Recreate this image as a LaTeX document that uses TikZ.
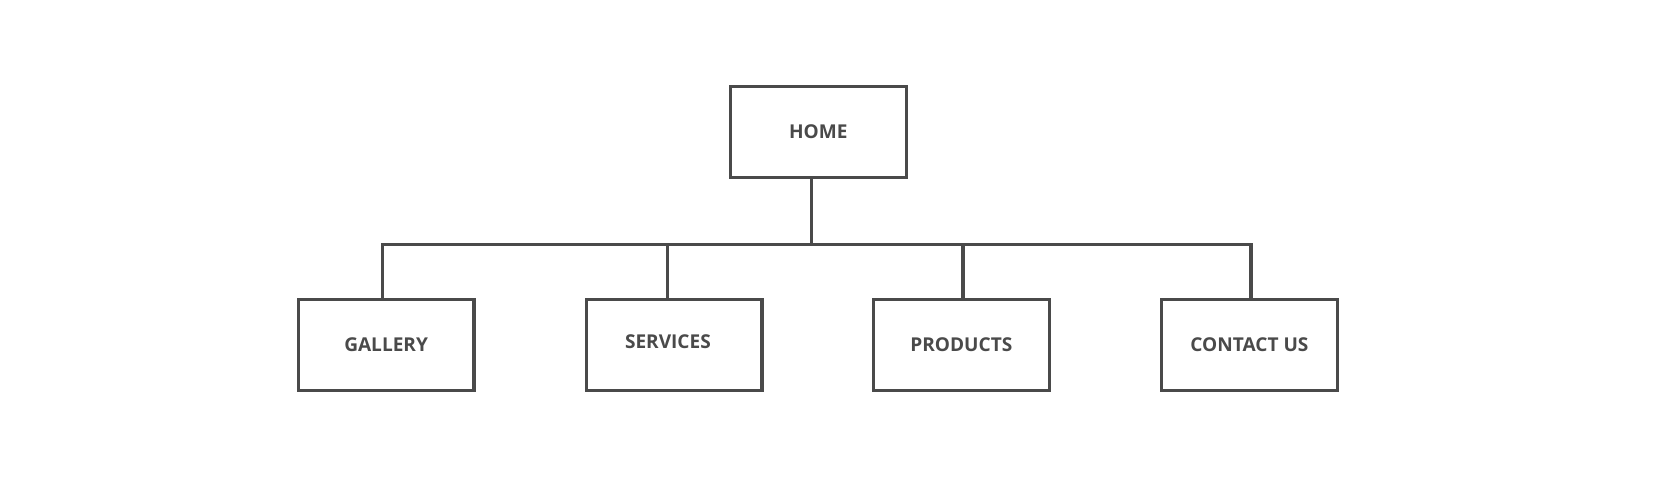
\documentclass[tikz,border=0pt]{standalone}
\usepackage{fontspec}
\setmainfont{Open Sans}
\definecolor{chartgray}{HTML}{4A4A4A}

\begin{document}
\begin{tikzpicture}[x=0.5pt, y=-0.5pt,
        page/.style={draw=chartgray, line width=1.6pt, minimum width=83pt, minimum height=43pt,
            inner sep=0pt, text=chartgray, font=\fontsize{9}{11}\selectfont\bfseries},
        link/.style={draw=chartgray, line width=1.6pt}]
            % Page Area
            \useasboundingbox (0,0) rectangle (1568,474.8);

            % Draw Page Boxes
            % -- top level
            \node[page] (home) at (772.5,124.5) {HOME};

            % -- second level
            \node[page] (gallery) at (364.5,325.5) {GALLERY};
            \node[page] (services) at (636.5,325.5) {\raisebox{3pt}{SERVICES}\kern6pt};
            \node[page] (products) at (907.5,325.5) {PRODUCTS};
            \node[page] (contact) at (1179.5,325.5) {CONTACT US};

            % Branch Points
            \coordinate (b0) at (766,231);
            \coordinate (b1) at (361,231);
            \coordinate (b2) at (630,231);
            \coordinate (b3) at (909,231);
            \coordinate (b4) at (1181,231);

            % Draw Links
            \draw[link] (home.south -| b0) -- (b0);
            \draw[link] (b1 |- gallery.north) -- (b1) -- (b4) -- (b4 |- contact.north);
            \draw[link] (b2) -- (b2 |- services.north);
            \draw[link] (b3) -- (b3 |- products.north);
        \end{tikzpicture}
\end{document}
